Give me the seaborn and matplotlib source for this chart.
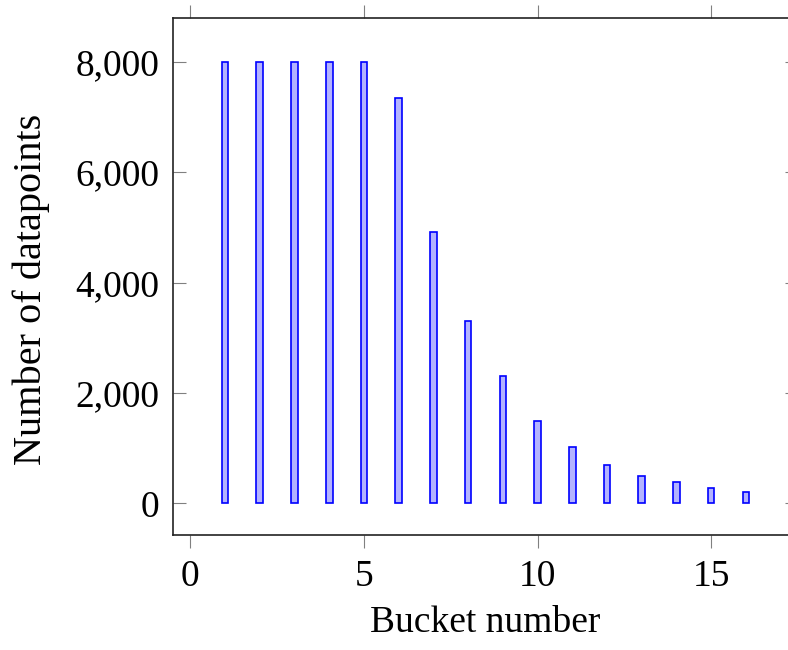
import seaborn as sns
import matplotlib.pyplot as plt
from matplotlib.ticker import FuncFormatter

buckets = [1, 2, 3, 4, 5, 6, 7, 8, 9, 10, 11, 12, 13, 14, 15, 16]
counts = [8000, 8000, 8000, 8000, 8000, 7350, 4920, 3300, 2300, 1500, 1020, 700, 500, 390, 280, 200]

sns.set_style("white")
plt.rcParams['font.family'] = ['Liberation Serif', 'DejaVu Serif']
plt.rcParams['text.color'] = 'black'
plt.rcParams['axes.labelcolor'] = 'black'

fig = plt.figure(figsize=(7.88, 6.5), dpi=100)
ax = fig.add_axes([0.2195, 0.1769, 0.7932, 0.7954])

sns.barplot(x=buckets, y=counts, native_scale=True, width=0.19,
            color="#b3b3ff", saturation=1, edgecolor="blue", linewidth=1.2, ax=ax)

ax.set_xlim(-0.5, 17.5)
ax.set_ylim(-575, 8800)
ax.set_xticks([0, 5, 10, 15])
ax.set_yticks([0, 2000, 4000, 6000, 8000])
ax.yaxis.set_major_formatter(FuncFormatter(lambda v, p: f"{int(v):,}"))

ax.tick_params(axis="x", direction="out", length=9.5, width=0.8, color="gray",
               top=True, bottom=True, labelsize=27, pad=8, labelcolor="black")
ax.tick_params(axis="y", direction="in", length=9.5, width=0.8, color="gray",
               left=True, right=True, labelsize=27, pad=10, labelcolor="black")
for s in ax.spines.values():
    s.set_color("#222222")
    s.set_linewidth(1.2)

ax.set_xlabel("Bucket number", fontsize=27, color="black")
ax.set_ylabel("Number of datapoints", fontsize=29, color="black")
ax.xaxis.set_label_coords(0.5, -0.137)
ax.yaxis.set_label_coords(-0.197, 0.476)

fig.savefig("out.png", dpi=100)
